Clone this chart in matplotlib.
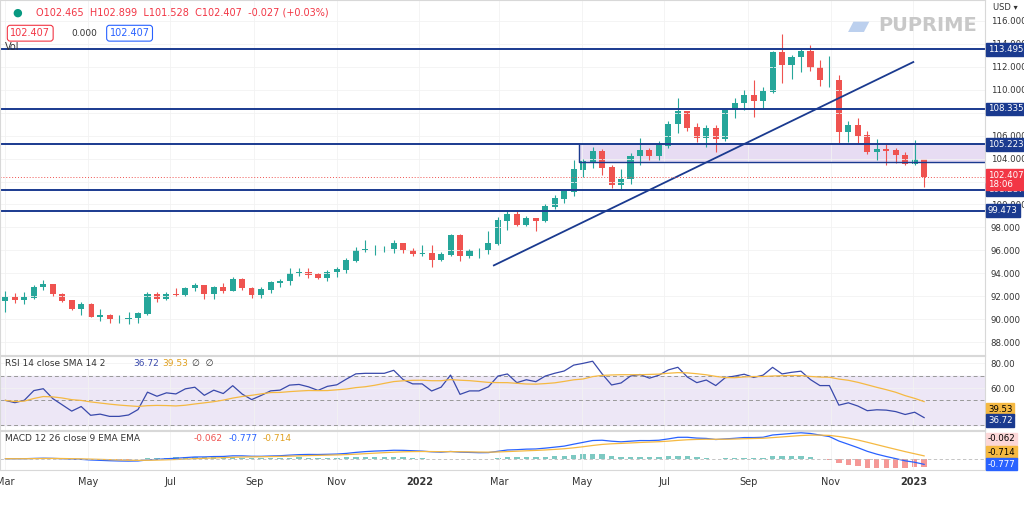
import matplotlib
matplotlib.use("Agg")
import matplotlib.pyplot as plt
import matplotlib.dates as mdates
import numpy as np
import pandas as pd

# weekly candles, DXY-style
closes = [91.9, 91.7, 91.9, 92.8, 93.0, 92.2, 91.6, 90.9, 91.3, 90.2, 90.3, 90.0, 90.0, 90.1,
          90.5, 92.2, 91.8, 92.2, 92.1, 92.7, 92.9, 92.2, 92.8, 92.5, 93.5, 92.7, 92.1, 92.6,
          93.2, 93.3, 94.0, 94.1, 93.9, 93.6, 94.1, 94.3, 95.1, 96.0, 96.1, 96.1, 96.1, 96.6,
          96.0, 95.7, 95.7, 95.2, 95.6, 97.3, 95.5, 96.0, 96.0, 96.6, 98.6, 99.1, 98.2, 98.8,
          98.6, 99.8, 100.5, 101.1, 103.0, 103.7, 104.6, 103.2, 101.7, 102.2, 104.2, 104.7,
          104.2, 105.1, 107.0, 108.1, 106.7, 105.8, 106.6, 105.7, 108.2, 108.8, 109.5, 109.0,
          109.8, 113.2, 112.1, 112.8, 113.3, 111.9, 110.8, 110.8, 106.3, 106.9, 106.0, 104.6,
          104.8, 104.7, 104.3, 103.5, 103.9, 102.4]
highs = [92.5, 92.3, 92.4, 93.0, 93.4, 93.0, 92.3, 91.7, 91.5, 91.4, 90.9, 90.5, 90.4, 90.6,
         90.6, 92.4, 92.4, 92.4, 92.7, 92.8, 93.2, 93.0, 92.9, 93.2, 93.7, 93.6, 92.8, 92.8,
         93.3, 93.5, 94.5, 94.5, 94.5, 94.0, 94.3, 94.6, 95.3, 96.3, 96.9, 96.5, 96.4, 96.9,
         96.6, 96.2, 96.5, 96.5, 95.9, 97.4, 97.4, 96.1, 96.2, 97.7, 98.9, 99.4, 99.4, 99.0,
         98.8, 100.0, 100.8, 101.0, 103.9, 104.0, 105.0, 104.8, 103.4, 103.1, 104.5, 105.8,
         104.9, 105.5, 107.3, 109.3, 107.8, 107.1, 106.9, 106.9, 108.2, 109.3, 110.0, 110.8,
         110.2, 113.4, 114.8, 113.0, 113.5, 113.9, 112.6, 112.9, 111.3, 107.3, 107.5, 106.4,
         105.7, 105.3, 104.9, 104.6, 105.6, 103.6]
lows = [90.6, 91.4, 91.3, 91.8, 92.6, 92.0, 91.5, 90.8, 90.4, 90.2, 89.9, 89.7, 89.7, 89.6,
        89.7, 90.4, 91.5, 91.7, 92.0, 92.0, 92.5, 91.8, 91.8, 92.3, 92.5, 92.6, 91.9, 91.9,
        92.3, 92.8, 93.0, 93.8, 93.6, 93.5, 93.3, 93.7, 94.0, 95.0, 95.9, 95.6, 95.9, 95.8,
        95.8, 95.5, 95.5, 94.6, 95.1, 95.5, 95.1, 95.3, 95.3, 95.7, 96.5, 97.8, 98.1, 98.1,
        97.7, 98.5, 99.6, 100.1, 100.7, 102.4, 103.2, 102.6, 101.4, 101.3, 101.8, 103.4,
        103.9, 103.9, 104.9, 106.2, 106.4, 105.4, 105.0, 104.6, 105.5, 107.5, 108.2, 107.6,
        108.3, 109.7, 110.6, 110.9, 111.5, 111.6, 110.3, 110.2, 105.3, 105.4, 105.3, 104.4,
        103.9, 103.4, 103.6, 103.4, 103.4, 101.5]

levels = [113.495, 108.335, 105.223, 101.287, 99.473]
zone = (103.7, 105.223)
trend_start = ("2022-02-25", 94.7)
trend_end = ("2023-01-01", 112.4)
last_price = 102.407
rsi_last, rsi_ma_last = 36.72, 39.53
macd_hist_last, macd_sig_last, macd_last = -0.062, -0.714, -0.777
month_ticks = ["2021-03-01", "2021-05-01", "2021-07-01", "2021-09-01", "2021-11-01", "2022-01-01",
               "2022-03-01", "2022-05-01", "2022-07-01", "2022-09-01", "2022-11-01", "2023-01-01"]
month_labels = ["Mar", "May", "Jul", "Sep", "Nov", "2022", "Mar", "May", "Jul", "Sep", "Nov", "2023"]

NAVY = "#1a3a8f"
UP, DN = "#26a69a", "#ef5350"
FS = 6.2

dates = pd.date_range("2021-03-01", periods=len(closes), freq="7D")
x = mdates.date2num(dates)
c = np.array(closes)
o = np.r_[c[0] - 0.3, c[:-1]]
h, l = np.maximum(highs, np.maximum(o, c)), np.minimum(lows, np.minimum(o, c))

# RSI 14 + SMA 14
d = np.diff(c, prepend=c[0])
up, dn = np.clip(d, 0, None), np.clip(-d, 0, None)
au, ad = np.zeros_like(c), np.zeros_like(c)
au[0], ad[0] = 0.2, 0.2
for i in range(1, len(c)):
    au[i] = (au[i - 1] * 13 + up[i]) / 14
    ad[i] = (ad[i - 1] * 13 + dn[i]) / 14
rsi = 100 - 100 / (1 + au / ad)
rsi_ma = pd.Series(rsi).rolling(14, min_periods=1).mean().values

# MACD 12 26 9
s = pd.Series(c)
macd = (s.ewm(span=12).mean() - s.ewm(span=26).mean()).values
sig = pd.Series(macd).ewm(span=9).mean().values
hist = macd - sig

fig = plt.figure(figsize=(10.24, 5.11), dpi=100)
W = 985 / 1024
ax = fig.add_axes([0, 1 - 355 / 511, W, 355 / 511])
ax2 = fig.add_axes([0, 1 - 430 / 511, W, 74 / 511], sharex=ax)
ax3 = fig.add_axes([0, 1 - 470 / 511, W, 39 / 511], sharex=ax)


def tag(a, y, txt, fc, tc="white", trans=None):
    a.text(1.003, y, txt, transform=trans or a.get_yaxis_transform(), va="center", ha="left",
           fontsize=FS, color=tc, linespacing=1.0,
           bbox=dict(boxstyle="square,pad=0.2", fc=fc, ec=fc), clip_on=False)


xmin, xmax = mdates.datestr2num("2021-02-25"), mdates.datestr2num("2023-02-23")
for a in (ax, ax2, ax3):
    a.set_xlim(xmin, xmax)
    a.yaxis.tick_right()
    a.tick_params(axis="y", length=0, labelsize=FS, labelcolor="#333333", pad=4)
    a.tick_params(axis="x", length=0)
    for sp in a.spines.values():
        sp.set_color("#d8d8d8")
    a.grid(color="#f2f2f2", lw=0.6)
    a.set_xticks(mdates.datestr2num(month_ticks))

# candles
col = np.where(c >= o, UP, DN)
ax.vlines(x, l, h, color=col, lw=0.8)
ax.bar(x, np.abs(c - o) + 0.05, bottom=np.minimum(o, c), width=4.5, color=col)
ax.set_ylim(86.9, 117.8)
ax.set_yticks(np.arange(88, 117, 2))
ax.yaxis.set_major_formatter(plt.FuncFormatter(lambda v, p: f"{v:.3f}"))
ax.tick_params(labelbottom=False)

zx0 = mdates.datestr2num("2022-04-29")
ax.fill_between([zx0, xmax], zone[0], zone[1], color="#e7dcf3", zorder=0)
ax.plot([zx0, zx0, xmax], [zone[1], zone[0], zone[0]], color=NAVY, lw=1)
for lv in levels:
    ax.axhline(lv, color=NAVY, lw=1.4)
    tag(ax, lv, f"{lv:.3f}", NAVY)
ax.plot(mdates.datestr2num([trend_start[0], trend_end[0]]), [trend_start[1], trend_end[1]],
        color=NAVY, lw=1.3)
ax.axhline(last_price, color=DN, lw=0.7, ls=(0, (1, 2)))
tag(ax, last_price - 0.25, f"{last_price:.3f}\n18:06", "#f23645")

# header
fig.text(0.035, 0.975, "O102.465  H102.899  L101.528  C102.407  -0.027 (+0.03%)",
         fontsize=7, color="#f23645", va="center")
fig.text(0.012, 0.975, "●", fontsize=8, color="#089981", va="center")
fig.text(0.01, 0.935, "102.407", fontsize=7, color="#f23645", va="center",
         bbox=dict(boxstyle="round,pad=0.3", fc="white", ec="#f23645", lw=0.8))
fig.text(0.07, 0.935, "0.000", fontsize=6.5, color="#333333", va="center")
fig.text(0.107, 0.935, "102.407", fontsize=7, color="#2962ff", va="center",
         bbox=dict(boxstyle="round,pad=0.3", fc="white", ec="#2962ff", lw=0.8))
fig.text(0.005, 0.908, "Vol", fontsize=7, color="#333333", va="center")
fig.text(0.858, 0.950, "PUPRIME", fontsize=14, fontweight="bold", color="#c8c8c8", va="center")
fig.text(0.828, 0.950, "▰", fontsize=20, color="#bcd0ee", va="center")
fig.text(0.97, 0.985, "USD ▾", fontsize=6, color="#333333", va="center")

# RSI
ax2.axhspan(30, 70, color="#ede7f6", zorder=0)
for v in (70, 50, 30):
    ax2.axhline(v, color="#999999", lw=0.7, ls=(0, (4, 3)))
ax2.plot(x, rsi, color="#3949ab", lw=0.9)
ax2.plot(x, rsi_ma, color="#f5b942", lw=0.9)
ax2.set_ylim(26, 86)
ax2.set_yticks([60, 80])
ax2.yaxis.set_major_formatter(plt.FuncFormatter(lambda v, p: f"{v:.2f}"))
ax2.tick_params(labelbottom=False)
ax2.text(0.005, 0.9, "RSI 14 close SMA 14 2", transform=ax2.transAxes, fontsize=6.5, color="#333333", va="center")
ax2.text(0.135, 0.9, f"{rsi_last:.2f}", transform=ax2.transAxes, fontsize=6.5, color="#3949ab", va="center")
ax2.text(0.165, 0.9, f"{rsi_ma_last:.2f}", transform=ax2.transAxes, fontsize=6.5, color="#e0a020", va="center")
ax2.text(0.195, 0.9, "∅  ∅", transform=ax2.transAxes, fontsize=6.5, color="#333333", va="center")
tag(ax2, rsi_ma_last + 3, f"{rsi_ma_last:.2f}", "#f5b942", "black")
tag(ax2, rsi_last - 3, f"{rsi_last:.2f}", NAVY)

# MACD
hcol = np.where(hist >= 0, "#26a69a", "#ef5350")
ax3.bar(x, hist, width=4, color=hcol, alpha=0.6)
ax3.plot(x, macd, color="#2962ff", lw=0.9)
ax3.plot(x, sig, color="#f5b942", lw=0.9)
ax3.axhline(0, color="#bbbbbb", lw=0.6, ls=(0, (4, 3)))
ax3.set_yticks([])
ax3.text(0.005, 0.8, "MACD 12 26 close 9 EMA EMA", transform=ax3.transAxes, fontsize=6.5, color="#333333", va="center")
ax3.text(0.197, 0.8, f"{macd_hist_last:.3f}", transform=ax3.transAxes, fontsize=6.5, color="#ef5350", va="center")
ax3.text(0.232, 0.8, f"{macd_last:.3f}", transform=ax3.transAxes, fontsize=6.5, color="#2962ff", va="center")
ax3.text(0.267, 0.8, f"{macd_sig_last:.3f}", transform=ax3.transAxes, fontsize=6.5, color="#e0a020", va="center")
tag(ax3, 0.8, f"{macd_hist_last:.3f}", "#fcd7d7", "black", ax3.transAxes)
tag(ax3, 0.45, f"{macd_sig_last:.3f}", "#f5b942", "black", ax3.transAxes)
tag(ax3, 0.15, f"{macd_last:.3f}", "#2962ff", "white", ax3.transAxes)
ax3.set_xticklabels(month_labels)
ax3.tick_params(axis="x", labelsize=7, labelcolor="#333333", pad=5)
for lab in ax3.get_xticklabels():
    if lab.get_text() in ("2022", "2023"):
        lab.set_fontweight("bold")

fig.savefig("out.png", dpi=100)
